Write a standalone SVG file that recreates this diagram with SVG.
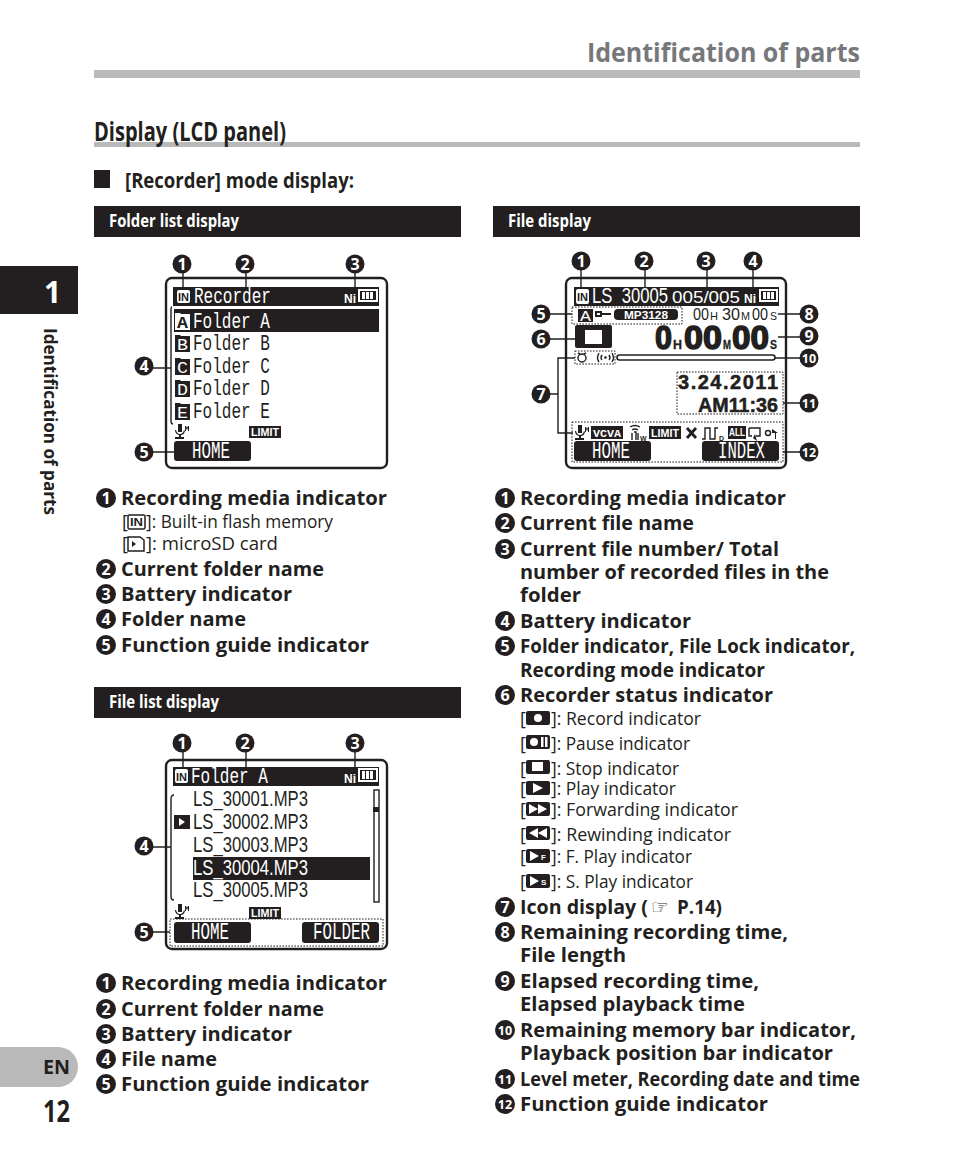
<svg xmlns="http://www.w3.org/2000/svg" width="954" height="1158" viewBox="0 0 954 1158">
<style>
text{font-family:"Open Sans","Noto Sans","Liberation Sans",sans-serif;fill:#231f20}
.b{font-weight:700;font-size:20px}
.s{font-size:18px}
.n{font-weight:700;font-size:16px;fill:#fff;text-anchor:middle}
.n2{font-weight:700;font-size:12.500px;fill:#fff;text-anchor:middle}
.lcd{font-family:"Liberation Mono",monospace;font-size:22px}
.lw{font-family:"Liberation Mono",monospace;font-size:22px;fill:#fff}
.lb{font-family:"Liberation Sans",sans-serif;font-weight:700;fill:#231f20;stroke:#231f20}
.nd{font-family:"Liberation Sans",sans-serif}
.tiny{font-family:"Liberation Sans",sans-serif;font-weight:700;font-size:10px;fill:#fff}
.frame{fill:#fff;stroke:#231f20;stroke-width:2.400}
.k{fill:#231f20}
.w{fill:#fff}
.ln{fill:none;stroke:#231f20;stroke-width:1.400}
.dot{fill:none;stroke:#231f20;stroke-width:1;stroke-dasharray:1.600 1.400}
.hd{font-weight:700;font-size:18px;fill:#fff}
.c{fill:#231f20}
</style>

<g id="page-header">
<text x="587" y="62" font-size="27" font-weight="700" style="fill:#77787b" textLength="273" lengthAdjust="spacingAndGlyphs">Identification of parts</text>
<rect x="94" y="70" width="766" height="8" fill="#b9b9b9"/>
<rect x="94" y="142" width="766" height="5" fill="#b9b9b9"/>
<text x="94" y="141" font-size="27" font-weight="700" textLength="192" lengthAdjust="spacingAndGlyphs">Display (LCD panel)</text>
<rect x="94" y="170" width="16" height="18" class="k"/>
<text x="125" y="188" font-size="21" font-weight="700" textLength="229" lengthAdjust="spacingAndGlyphs">[Recorder] mode display:</text>
</g>

<g id="sidebar">
<rect x="0" y="266" width="78" height="48" class="k"/>
<text x="44" y="303" font-size="30" font-weight="700" style="fill:#fff">1</text>
<text transform="translate(44 328) rotate(90)" font-size="18" font-weight="700" textLength="187" lengthAdjust="spacingAndGlyphs">Identification of parts</text>
<path d="M0 1047H58a20 20 0 0 1 0 40H0Z" fill="#b9b9b9"/>
<text x="43" y="1074" font-size="19" font-weight="700" textLength="27" lengthAdjust="spacingAndGlyphs">EN</text>
<text x="43" y="1122" font-size="31" font-weight="700" textLength="27" lengthAdjust="spacingAndGlyphs">12</text>
</g>

<g id="band-folder-list"><rect x="94" y="206" width="367" height="31" class="k"/><text x="109" y="227" class="hd" textLength="130" lengthAdjust="spacingAndGlyphs">Folder list display</text></g>
<g id="band-file-display"><rect x="493" y="206" width="367" height="31" class="k"/><text x="508" y="227" class="hd" textLength="83" lengthAdjust="spacingAndGlyphs">File display</text></g>
<g id="band-file-list"><rect x="94" y="687" width="367" height="31" class="k"/><text x="109" y="708" class="hd" textLength="110" lengthAdjust="spacingAndGlyphs">File list display</text></g>

<g id="lcd-folder-list">
<rect x="166" y="278" width="221" height="190" rx="6" class="frame"/>
<rect x="173" y="287" width="206" height="19" class="k"/>
<rect x="177" y="290" width="13" height="13" rx="2" class="w"/><text x="178" y="301" class="tiny" style="fill:#231f20" textLength="11" lengthAdjust="spacingAndGlyphs">IN</text>
<text x="194" y="303" class="lw" textLength="77" lengthAdjust="spacingAndGlyphs">Recorder</text>
<text x="344" y="303" class="tiny" style="font-size:12px" textLength="12" lengthAdjust="spacingAndGlyphs">Ni</text>
<rect x="358" y="289" width="20" height="13" class="w"/><rect x="360" y="291" width="16" height="9" class="k"/><path class="w" d="M362 292h3v7h-3zM366 292h3v7h-3zM370 292h3v7h-3z"/>
<rect x="174" y="309" width="205" height="23" class="k"/>
<path class="w" d="M175 313h5l1 1h9v16h-15z"/><text x="177" y="328" class="lcd" font-weight="700" textLength="11" lengthAdjust="spacingAndGlyphs" style="font-size:17px">A</text>
<text x="193" y="328" class="lw" textLength="77" lengthAdjust="spacingAndGlyphs">Folder A</text>
<path class="k" d="M175 335h5l1 1h9v16h-15z"/><text x="177" y="350" class="lw" style="font-size:17px" textLength="11" lengthAdjust="spacingAndGlyphs">B</text>
<text x="193" y="350" class="lcd" textLength="77" lengthAdjust="spacingAndGlyphs">Folder B</text>
<path class="k" d="M175 358h5l1 1h9v16h-15z"/><text x="177" y="373" class="lw" style="font-size:17px" textLength="11" lengthAdjust="spacingAndGlyphs">C</text>
<text x="193" y="373" class="lcd" textLength="77" lengthAdjust="spacingAndGlyphs">Folder C</text>
<path class="k" d="M175 380h5l1 1h9v16h-15z"/><text x="177" y="395" class="lw" style="font-size:17px" textLength="11" lengthAdjust="spacingAndGlyphs">D</text>
<text x="193" y="395" class="lcd" textLength="77" lengthAdjust="spacingAndGlyphs">Folder D</text>
<path class="k" d="M175 403h5l1 1h9v16h-15z"/><text x="177" y="418" class="lw" style="font-size:17px" textLength="11" lengthAdjust="spacingAndGlyphs">E</text>
<text x="193" y="418" class="lcd" textLength="77" lengthAdjust="spacingAndGlyphs">Folder E</text>
<path class="k" d="M178 424h4v8h-4zM176 430q1 4 4 4t4-4l1 1q-1 4-4 4v2h3v2h-9v-2h4v-2q-4-1-4-5zM185 426h1l1 2 1-2h1v5h-1v-3l-1 2-1-2v3h-1z"/>
<rect x="249" y="426" width="32" height="12" class="k"/><text x="251" y="436" class="tiny" textLength="28" lengthAdjust="spacingAndGlyphs">LIMIT</text>
<rect x="174" y="441" width="77" height="20" rx="3" class="k"/><text x="192" y="458" class="lw" style="font-size:23px" textLength="38" lengthAdjust="spacingAndGlyphs">HOME</text>
</g>

<g id="lcd-file-list">
<rect x="166" y="760" width="221" height="189" rx="6" class="frame"/>
<rect x="173" y="767" width="206" height="19" class="k"/>
<rect x="175" y="769" width="13" height="14" rx="2" class="w"/><text x="176" y="781" class="tiny" style="fill:#231f20" textLength="11" lengthAdjust="spacingAndGlyphs">IN</text>
<text x="191" y="783" class="lw" textLength="77" lengthAdjust="spacingAndGlyphs">Folder A</text>
<text x="344" y="783" class="tiny" style="font-size:12px" textLength="12" lengthAdjust="spacingAndGlyphs">Ni</text>
<rect x="358" y="768" width="20" height="14" class="w"/><rect x="360" y="770" width="16" height="10" class="k"/><path class="w" d="M362 771h3v8h-3zM366 771h3v8h-3zM370 771h3v8h-3z"/>
<text x="193" y="806" class="lcd nd" textLength="115" lengthAdjust="spacingAndGlyphs">LS_30001.MP3</text>
<rect x="174" y="815" width="16" height="14" class="k"/><path class="w" d="M179 818l6 4-6 4z"/>
<text x="193" y="829" class="lcd nd" textLength="115" lengthAdjust="spacingAndGlyphs">LS_30002.MP3</text>
<text x="193" y="852" class="lcd nd" textLength="115" lengthAdjust="spacingAndGlyphs">LS_30003.MP3</text>
<rect x="193" y="857" width="177" height="23" class="k"/>
<text x="193" y="875" class="lw nd" textLength="115" lengthAdjust="spacingAndGlyphs">LS_30004.MP3</text>
<text x="193" y="897" class="lcd nd" textLength="115" lengthAdjust="spacingAndGlyphs">LS_30005.MP3</text>
<rect x="374" y="790" width="5" height="112" fill="#fff" stroke="#231f20" stroke-width="1.400"/><rect x="373" y="807" width="6" height="5" class="k"/>
<path class="k" d="M178 904h4v8h-4zM176 910q1 4 4 4t4-4l1 1q-1 4-4 4v2h3v2h-9v-2h4v-2q-4-1-4-5zM185 906h1l1 2 1-2h1v5h-1v-3l-1 2-1-2v3h-1z"/>
<rect x="249" y="907" width="32" height="12" class="k"/><text x="251" y="917" class="tiny" textLength="28" lengthAdjust="spacingAndGlyphs">LIMIT</text>
<rect x="170" y="919" width="213" height="27" class="dot"/>
<rect x="174" y="922" width="77" height="21" rx="3" class="k"/><text x="191" y="939" class="lw" style="font-size:23px" textLength="38" lengthAdjust="spacingAndGlyphs">HOME</text>
<rect x="302" y="922" width="77" height="21" rx="3" class="k"/><text x="313" y="939" class="lw" style="font-size:23px" textLength="57" lengthAdjust="spacingAndGlyphs">FOLDER</text>
</g>

<g id="lcd-file-display">
<rect x="566" y="278" width="220" height="190" rx="6" class="frame"/>
<rect x="574" y="287" width="205" height="19" class="k"/>
<rect x="576" y="289" width="13" height="15" rx="2" class="w"/><text x="577" y="301" class="tiny" style="fill:#231f20" textLength="11" lengthAdjust="spacingAndGlyphs">IN</text>
<text x="592" y="303" class="lw nd" textLength="76" lengthAdjust="spacingAndGlyphs">LS_30005</text>
<text x="672" y="303" class="lw nd" style="font-size:17px" textLength="68" lengthAdjust="spacingAndGlyphs">005/005</text>
<text x="744" y="303" class="tiny" style="font-size:12px" textLength="12" lengthAdjust="spacingAndGlyphs">Ni</text>
<rect x="759" y="289" width="19" height="13" class="w"/><rect x="761" y="291" width="15" height="9" class="k"/><path class="w" d="M763 292h3v7h-3zM767 292h3v7h-3zM771 292h3v7h-3z"/>
<rect x="572" y="307" width="110" height="17" class="dot"/>
<rect x="578" y="309" width="15" height="13" class="k"/><text x="580" y="321" class="lw" style="font-size:15px" textLength="11" lengthAdjust="spacingAndGlyphs">A</text>
<path class="k" d="M595 311h7v6h-7zM602 313h9v2h-9z"/><rect x="597" y="313" width="3" height="2" class="w"/>
<rect x="614" y="309" width="64" height="11" rx="4" class="k"/><text x="624" y="319" class="tiny" style="font-family:'Liberation Sans',sans-serif;font-size:11px" textLength="44" lengthAdjust="spacingAndGlyphs">MP3128</text>
<text x="693" y="320" class="lcd nd" style="font-size:17px" textLength="16" lengthAdjust="spacingAndGlyphs">00</text>
<text x="710" y="320" class="lcd nd" style="font-size:11px" textLength="8" lengthAdjust="spacingAndGlyphs">H</text>
<text x="722" y="320" class="lcd nd" style="font-size:17px" textLength="18" lengthAdjust="spacingAndGlyphs">30</text>
<text x="741" y="320" class="lcd nd" style="font-size:11px" textLength="9" lengthAdjust="spacingAndGlyphs">M</text>
<text x="752" y="320" class="lcd nd" style="font-size:17px" textLength="16" lengthAdjust="spacingAndGlyphs">00</text>
<text x="770" y="320" class="lcd nd" style="font-size:11px" textLength="7" lengthAdjust="spacingAndGlyphs">S</text>
<rect x="575" y="325" width="37" height="23" rx="2" class="k"/><rect x="585" y="330" width="17" height="14" class="w"/>
<text x="655" y="349" class="lb" font-size="34" stroke-width="1.500" textLength="17" lengthAdjust="spacingAndGlyphs">0</text>
<text x="673" y="349" class="lb" font-size="12" stroke-width=".3" textLength="9" lengthAdjust="spacingAndGlyphs">H</text>
<text x="684" y="349" class="lb" font-size="34" stroke-width="1.500" textLength="38" lengthAdjust="spacingAndGlyphs">00</text>
<text x="723" y="349" class="lb" font-size="12" stroke-width=".3" textLength="8" lengthAdjust="spacingAndGlyphs">M</text>
<text x="732" y="349" class="lb" font-size="34" stroke-width="1.500" textLength="37" lengthAdjust="spacingAndGlyphs">00</text>
<text x="770" y="349" class="lb" font-size="12" stroke-width=".3" textLength="7" lengthAdjust="spacingAndGlyphs">S</text>
<rect x="575" y="351" width="40" height="13" class="dot"/>
<circle cx="582" cy="358" r="4" fill="none" stroke="#231f20" stroke-width="1.400"/><path class="ln" d="M578 353l2 1M586 353l-2 1"/>
<path class="ln" d="M599 353q-3 5 0 9M612 353q3 5 0 9M602 355q-2 3 0 5M609 355q2 3 0 5"/><circle cx="605.500" cy="357.500" r="1.300" class="k"/>
<rect x="617" y="355" width="158" height="5" rx="2.500" fill="#fff" stroke="#231f20" stroke-width="1.600"/>
<rect x="677" y="372" width="106" height="42" class="dot"/>
<text x="678" y="389" class="lb" font-size="20" stroke-width=".5" textLength="100" lengthAdjust="spacing">3.24.2011</text>
<text x="698" y="412" class="lb" font-size="20" stroke-width=".5" textLength="80" lengthAdjust="spacingAndGlyphs">AM11:36</text>
<rect x="572" y="422" width="211" height="40" class="dot"/>
<path class="k" d="M578 425h4v8h-4zM576 431q1 4 4 4t4-4l1 1q-1 4-4 4v2h3v2h-9v-2h4v-2q-4-1-4-5zM585 427h1l1 2 1-2h1v5h-1v-3l-1 2-1-2v3h-1z"/>
<rect x="591" y="426" width="32" height="13" class="k"/><text x="593" y="437" class="tiny" style="font-family:'Liberation Mono',monospace;font-size:11px" textLength="28" lengthAdjust="spacingAndGlyphs">VCVA</text>
<path class="ln" d="M630 427q5-3 10 0M632 430q3-2 6 0M634 432h2v8M632 433v7M638 433v7"/><text x="640" y="441" class="lb" font-size="7" stroke-width="0">W</text>
<rect x="649" y="426" width="32" height="13" class="k"/><text x="651" y="437" class="tiny" textLength="28" lengthAdjust="spacingAndGlyphs">LIMIT</text>
<path d="M687 428l9 10M696 428l-9 10" fill="none" stroke="#231f20" stroke-width="2.800"/>
<path class="ln" d="M702 439h3v-11h5v11h5v-11h3" stroke-width="1.800"/><text x="719" y="441" class="lb" font-size="7" stroke-width="0">D</text>
<rect x="728" y="426" width="18" height="13" class="k"/><text x="729" y="436" class="tiny" textLength="16" lengthAdjust="spacingAndGlyphs">ALL</text>
<path class="ln" d="M749 428h11v8h-4M749 428v8h3" stroke-width="1.800"/><path class="k" d="M755 434l2 7-4-3z"/>
<circle cx="768" cy="433" r="2.500" fill="none" stroke="#231f20" stroke-width="1.400"/><path class="k" d="M772 429l6 4h-2v6h-1v-6h-3z"/>
<rect x="574" y="441" width="77" height="20" rx="3" class="k"/><text x="592" y="458" class="lw" style="font-size:23px" textLength="38" lengthAdjust="spacingAndGlyphs">HOME</text>
<rect x="702" y="441" width="77" height="20" rx="3" class="k"/><text x="718" y="458" class="lw" style="font-size:23px" textLength="47" lengthAdjust="spacingAndGlyphs">INDEX</text>
</g>

<g id="connectors">
<path class="ln" d="M183 273V287M246 273V287M355 273V287M153 368H171M172 307Q171 307 171 310V421Q171 424 173 424M153 452H174"/>
<path class="ln" d="M183 752V767M246 752V767M355 752V767M153 847H171M174 795Q171 795 171 799V897Q171 900 174 900M153 932H170"/>
<path class="ln" d="M581 270V287M645 270V287M707 270V287M753 270V287M549 314H572M549 339H575M575 358H558V433H573M549 394H558M778 314H800M778 337H800M775 358H800M783 403H800M783 452H800"/>
</g>

<g id="callouts">
<g><circle cx="182" cy="264" r="9.500" class="c"/><text x="182" y="270" class="n">1</text></g>
<g><circle cx="245" cy="264" r="9.500" class="c"/><text x="245" y="270" class="n">2</text></g>
<g><circle cx="355" cy="264" r="9.500" class="c"/><text x="355" y="270" class="n">3</text></g>
<g><circle cx="144" cy="366" r="9.500" class="c"/><text x="144" y="372" class="n">4</text></g>
<g><circle cx="144" cy="452" r="9.500" class="c"/><text x="144" y="458" class="n">5</text></g>
<g><circle cx="182" cy="743" r="9.500" class="c"/><text x="182" y="749" class="n">1</text></g>
<g><circle cx="245" cy="743" r="9.500" class="c"/><text x="245" y="749" class="n">2</text></g>
<g><circle cx="355" cy="743" r="9.500" class="c"/><text x="355" y="749" class="n">3</text></g>
<g><circle cx="144" cy="846" r="9.500" class="c"/><text x="144" y="852" class="n">4</text></g>
<g><circle cx="144" cy="932" r="9.500" class="c"/><text x="144" y="938" class="n">5</text></g>
<g><circle cx="581" cy="261" r="9.500" class="c"/><text x="581" y="267" class="n">1</text></g>
<g><circle cx="644" cy="261" r="9.500" class="c"/><text x="644" y="267" class="n">2</text></g>
<g><circle cx="706" cy="261" r="9.500" class="c"/><text x="706" y="267" class="n">3</text></g>
<g><circle cx="753" cy="261" r="9.500" class="c"/><text x="753" y="267" class="n">4</text></g>
<g><circle cx="541" cy="314" r="9.500" class="c"/><text x="541" y="320" class="n">5</text></g>
<g><circle cx="541" cy="339" r="9.500" class="c"/><text x="541" y="345" class="n">6</text></g>
<g><circle cx="541" cy="394" r="9.500" class="c"/><text x="541" y="400" class="n">7</text></g>
<g><circle cx="809" cy="314" r="9.500" class="c"/><text x="809" y="320" class="n">8</text></g>
<g><circle cx="809" cy="336" r="9.500" class="c"/><text x="809" y="342" class="n">9</text></g>
<g><circle cx="809" cy="358" r="9.500" class="c"/><text x="809" y="362.500" class="n2">10</text></g>
<g><circle cx="809" cy="403" r="9.500" class="c"/><text x="809" y="407.500" class="n2">11</text></g>
<g><circle cx="809" cy="452" r="9.500" class="c"/><text x="809" y="456.500" class="n2">12</text></g>
</g>

<g id="list-folder">
<circle cx="106" cy="498" r="10" class="c"/><text x="106" y="504" class="n">1</text>
<text x="121" y="505" class="b" textLength="266" lengthAdjust="spacingAndGlyphs">Recording media indicator</text>
<text x="122" y="528" class="s">[</text><rect x="128" y="515" width="17" height="14" rx="1.500" fill="none" stroke="#231f20" stroke-width="1.500"/><text x="130" y="526" class="tiny" style="fill:#231f20" textLength="13" lengthAdjust="spacingAndGlyphs">IN</text><text x="146" y="528" class="s" textLength="187" lengthAdjust="spacingAndGlyphs">]: Built-in flash memory</text>
<text x="122" y="550" class="s">[</text><path d="M128 537h12l4 3v11h-16z" fill="none" stroke="#231f20" stroke-width="1.500"/><path class="k" d="M132 541l4 3-4 3z"/><text x="146" y="550" class="s" textLength="132" lengthAdjust="spacingAndGlyphs">]: microSD card</text>
<circle cx="106" cy="569" r="10" class="c"/><text x="106" y="575" class="n">2</text><text x="121" y="576" class="b" textLength="203" lengthAdjust="spacingAndGlyphs">Current folder name</text>
<circle cx="106" cy="594" r="10" class="c"/><text x="106" y="600" class="n">3</text><text x="121" y="601" class="b" textLength="171" lengthAdjust="spacingAndGlyphs">Battery indicator</text>
<circle cx="106" cy="619" r="10" class="c"/><text x="106" y="625" class="n">4</text><text x="121" y="626" class="b" textLength="125" lengthAdjust="spacingAndGlyphs">Folder name</text>
<circle cx="106" cy="645" r="10" class="c"/><text x="106" y="651" class="n">5</text><text x="121" y="652" class="b" textLength="248" lengthAdjust="spacingAndGlyphs">Function guide indicator</text>
</g>

<g id="list-file">
<circle cx="106" cy="983" r="10" class="c"/><text x="106" y="989" class="n">1</text><text x="121" y="990" class="b" textLength="266" lengthAdjust="spacingAndGlyphs">Recording media indicator</text>
<circle cx="106" cy="1009" r="10" class="c"/><text x="106" y="1015" class="n">2</text><text x="121" y="1016" class="b" textLength="203" lengthAdjust="spacingAndGlyphs">Current folder name</text>
<circle cx="106" cy="1034" r="10" class="c"/><text x="106" y="1040" class="n">3</text><text x="121" y="1041" class="b" textLength="171" lengthAdjust="spacingAndGlyphs">Battery indicator</text>
<circle cx="106" cy="1059" r="10" class="c"/><text x="106" y="1065" class="n">4</text><text x="121" y="1066" class="b" textLength="96" lengthAdjust="spacingAndGlyphs">File name</text>
<circle cx="106" cy="1084" r="10" class="c"/><text x="106" y="1090" class="n">5</text><text x="121" y="1091" class="b" textLength="248" lengthAdjust="spacingAndGlyphs">Function guide indicator</text>
</g>

<g id="list-display">
<circle cx="505" cy="498" r="10" class="c"/><text x="505" y="504" class="n">1</text><text x="520" y="505" class="b" textLength="266" lengthAdjust="spacingAndGlyphs">Recording media indicator</text>
<circle cx="505" cy="523" r="10" class="c"/><text x="505" y="529" class="n">2</text><text x="520" y="530" class="b" textLength="174" lengthAdjust="spacingAndGlyphs">Current file name</text>
<circle cx="505" cy="549" r="10" class="c"/><text x="505" y="555" class="n">3</text><text x="520" y="556" class="b" textLength="259" lengthAdjust="spacingAndGlyphs">Current file number/ Total</text>
<text x="520" y="579" class="b" textLength="309" lengthAdjust="spacingAndGlyphs">number of recorded files in the</text>
<text x="520" y="602" class="b" textLength="61" lengthAdjust="spacingAndGlyphs">folder</text>
<circle cx="505" cy="621" r="10" class="c"/><text x="505" y="627" class="n">4</text><text x="520" y="628" class="b" textLength="171" lengthAdjust="spacingAndGlyphs">Battery indicator</text>
<circle cx="505" cy="646" r="10" class="c"/><text x="505" y="652" class="n">5</text><text x="520" y="653" class="b" textLength="335" lengthAdjust="spacingAndGlyphs">Folder indicator, File Lock indicator,</text>
<text x="520" y="677" class="b" textLength="245" lengthAdjust="spacingAndGlyphs">Recording mode indicator</text>
<circle cx="505" cy="695" r="10" class="c"/><text x="505" y="701" class="n">6</text><text x="520" y="702" class="b" textLength="253" lengthAdjust="spacingAndGlyphs">Recorder status indicator</text>

<text x="520" y="725" class="s">[</text><rect x="526" y="711" width="24" height="14" rx="2" class="k"/><circle cx="538" cy="718" r="4" class="w"/><text x="551" y="725" class="s" textLength="150" lengthAdjust="spacingAndGlyphs">]: Record indicator</text>
<text x="520" y="750" class="s">[</text><rect x="526" y="735" width="24" height="14" rx="2" class="k"/><circle cx="534" cy="742" r="4" class="w"/><path class="w" d="M541 737h2.500v10h-2.500zM545 737h2.500v10h-2.500z"/><text x="551" y="750" class="s" textLength="139" lengthAdjust="spacingAndGlyphs">]: Pause indicator</text>
<text x="520" y="775" class="s">[</text><rect x="526" y="760" width="24" height="14" rx="2" class="k"/><rect x="532" y="762" width="11" height="9" class="w"/><text x="551" y="775" class="s" textLength="128" lengthAdjust="spacingAndGlyphs">]: Stop indicator</text>
<text x="520" y="795" class="s">[</text><rect x="526" y="781" width="24" height="14" rx="2" class="k"/><path class="w" d="M533 783l10 5-10 5z"/><text x="551" y="795" class="s" textLength="125" lengthAdjust="spacingAndGlyphs">]: Play indicator</text>
<text x="520" y="816" class="s">[</text><rect x="526" y="802" width="24" height="14" rx="2" class="k"/><path class="w" d="M529 804l9 5-9 5zM538 804l9 5-9 5z"/><text x="551" y="816" class="s" textLength="187" lengthAdjust="spacingAndGlyphs">]: Forwarding indicator</text>
<text x="520" y="841" class="s">[</text><rect x="526" y="826" width="24" height="14" rx="2" class="k"/><path class="w" d="M538 828l-9 5 9 5zM547 828l-9 5 9 5z"/><text x="551" y="841" class="s" textLength="180" lengthAdjust="spacingAndGlyphs">]: Rewinding indicator</text>
<text x="520" y="863" class="s">[</text><rect x="526" y="849" width="24" height="14" rx="2" class="k"/><path class="w" d="M530 851l9 5-9 5z"/><text x="541" y="860" class="tiny" style="font-size:8px">F</text><text x="551" y="863" class="s" textLength="141" lengthAdjust="spacingAndGlyphs">]: F. Play indicator</text>
<text x="520" y="888" class="s">[</text><rect x="526" y="874" width="24" height="14" rx="2" class="k"/><path class="w" d="M530 876l9 5-9 5z"/><text x="541" y="885" class="tiny" style="font-size:8px">S</text><text x="551" y="888" class="s" textLength="142" lengthAdjust="spacingAndGlyphs">]: S. Play indicator</text>

<circle cx="505" cy="907" r="10" class="c"/><text x="505" y="913" class="n">7</text><text x="520" y="914" class="b" textLength="128" lengthAdjust="spacingAndGlyphs">Icon display (</text><text x="651" y="914" font-size="20" style="font-family:'DejaVu Sans',sans-serif">☞</text><text x="677" y="914" class="b" textLength="45" lengthAdjust="spacingAndGlyphs">P.14)</text>
<circle cx="505" cy="932" r="10" class="c"/><text x="505" y="938" class="n">8</text><text x="520" y="939" class="b" textLength="268" lengthAdjust="spacingAndGlyphs">Remaining recording time,</text>
<text x="520" y="962" class="b" textLength="106" lengthAdjust="spacingAndGlyphs">File length</text>
<circle cx="505" cy="981" r="10" class="c"/><text x="505" y="987" class="n">9</text><text x="520" y="988" class="b" textLength="239" lengthAdjust="spacingAndGlyphs">Elapsed recording time,</text>
<text x="520" y="1011" class="b" textLength="225" lengthAdjust="spacingAndGlyphs">Elapsed playback time</text>
<circle cx="505" cy="1030" r="10" class="c"/><text x="505" y="1034.500" class="n2">10</text><text x="520" y="1037" class="b" textLength="336" lengthAdjust="spacingAndGlyphs">Remaining memory bar indicator,</text>
<text x="520" y="1060" class="b" textLength="313" lengthAdjust="spacingAndGlyphs">Playback position bar indicator</text>
<circle cx="505" cy="1079" r="10" class="c"/><text x="505" y="1083.500" class="n2">11</text><text x="520" y="1086" class="b" textLength="340" lengthAdjust="spacingAndGlyphs">Level meter, Recording date and time</text>
<circle cx="505" cy="1104" r="10" class="c"/><text x="505" y="1108.500" class="n2">12</text><text x="520" y="1111" class="b" textLength="248" lengthAdjust="spacingAndGlyphs">Function guide indicator</text>
</g>
</svg>
